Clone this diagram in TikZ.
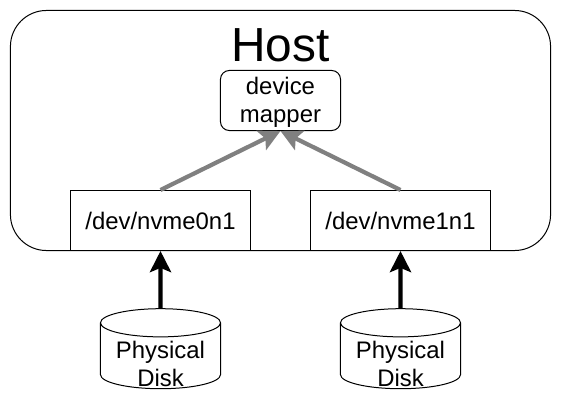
\documentclass[tikz,border=0pt]{standalone}
\usepackage{fontspec}
\setmainfont{Liberation Sans}
\usetikzlibrary{arrows.meta,shapes.geometric}
\begin{document}
\begin{tikzpicture}[x=0.025cm, y=-0.025cm, line width=0.71pt,
    box/.style={rectangle, draw, fill=white, minimum width=4.5cm, minimum height=1.5cm,
      inner sep=0pt, font=\fontsize{17pt}{20.5pt}\selectfont},
    disk/.style={cylinder, shape border rotate=90, draw, minimum width=3cm, minimum height=2cm,
      aspect=0.32, text width=2.2cm, inner sep=0pt, outer sep=0pt},
    disklabel/.style={align=center, inner sep=0pt, font=\fontsize{17pt}{20.5pt}\selectfont},
    link/.style={-{Stealth[length=15pt, width=15pt, inset=3pt]}, line width=3pt}]
    \useasboundingbox (0,0) rectangle (561,402);
    \node (host) [draw, rectangle, rounded corners=0.9cm, minimum width=13.5cm, minimum height=6cm,
      inner sep=0pt] at (280.5,130.5) {};
    \node (hostlabel) [font=\fontsize{34pt}{34pt}\selectfont, inner sep=0pt] at (280.5,45) {Host};
    \node (mapper) [draw, rectangle, rounded corners=0.22cm, minimum width=3cm, minimum height=1.5cm,
      inner sep=0pt, align=center, font=\fontsize{17pt}{20.5pt}\selectfont] at (280.5,100.5)
      {\rule{0pt}{15pt}device\\mapper};
    \node (nvme0) [box] at (160.5,220.5) {/dev/nvme0n1};
    \node (nvme1) [box] at (400.5,220.5) {/dev/nvme1n1};
    \node (disk0) [disk] at (160.5,356) {};
    \node (disk1) [disk] at (400.5,356) {};
    \node (text0) [disklabel] at (160.5,364) {Physical\\Disk};
    \node (text1) [disklabel] at (400.5,364) {Physical\\Disk};
    \begin{scope}[link, color=gray]
      \draw (nvme0.north) to (mapper.south);
      \draw (nvme1.north) to (mapper.south);
    \end{scope}
    \begin{scope}[link]
      \draw (disk0.north) to (nvme0.south);
      \draw (disk1.north) to (nvme1.south);
    \end{scope}
\end{tikzpicture}
\end{document}
